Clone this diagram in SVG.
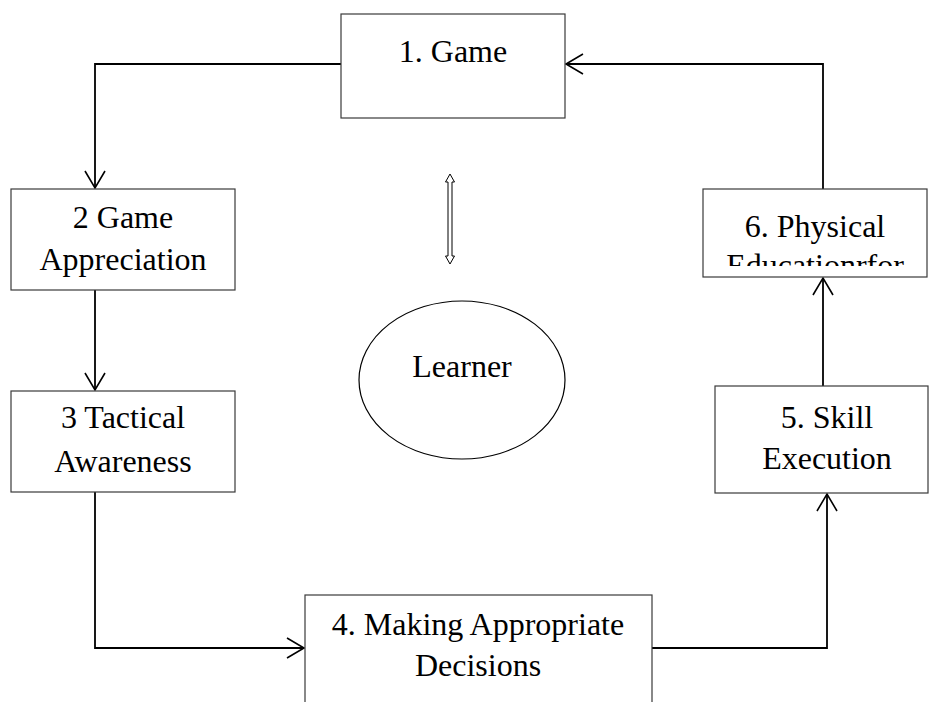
<svg xmlns="http://www.w3.org/2000/svg" width="930" height="702" viewBox="0 0 930 702">
<style>
.box{fill:#fff;stroke:#3a3a3a;stroke-width:1.2}
.t{font-family:"Liberation Serif","Times New Roman",serif;font-size:32px;fill:#000;text-anchor:middle}
.c{fill:none;stroke:#000;stroke-width:1.8}
</style>
<defs>
<marker id="ah" viewBox="-19 -12 21 24" markerWidth="21" markerHeight="24" refX="0" refY="0" orient="auto" markerUnits="userSpaceOnUse">
<path d="M-17,-10 L0,0 L-17,10" fill="none" stroke="#000" stroke-width="1.6"/>
</marker>
<clipPath id="clip6"><rect x="703" y="189" width="224" height="77"/></clipPath>
</defs>
<rect width="930" height="702" fill="#fff"/>
<g id="connectors">
<polyline class="c" points="341,64 95,64 95,188" marker-end="url(#ah)"/>
<polyline class="c" points="95,290 95,390" marker-end="url(#ah)"/>
<polyline class="c" points="95,492 95,648 304,648" marker-end="url(#ah)"/>
<polyline class="c" points="652,648 827,648 827,494" marker-end="url(#ah)"/>
<polyline class="c" points="823,386 823,278" marker-end="url(#ah)"/>
<polyline class="c" points="823,189 823,64 566,64" marker-end="url(#ah)"/>
</g>
<g id="node1">
<rect class="box" x="341" y="14" width="224" height="104"/>
<text class="t" x="453" y="62">1. Game</text>
</g>
<g id="node2">
<rect class="box" x="11" y="189" width="224" height="101"/>
<text class="t" x="123" y="228">2 Game</text>
<text class="t" x="123" y="270">Appreciation</text>
</g>
<g id="node3">
<rect class="box" x="11" y="391" width="224" height="101"/>
<text class="t" x="123" y="428">3 Tactical</text>
<text class="t" x="123" y="472">Awareness</text>
</g>
<g id="node4">
<rect class="box" x="305" y="595" width="347" height="120"/>
<text class="t" x="478" y="635">4. Making Appropriate</text>
<text class="t" x="478" y="676">Decisions</text>
</g>
<g id="node5">
<rect class="box" x="715" y="386" width="213" height="107"/>
<text class="t" x="827" y="428">5. Skill</text>
<text class="t" x="827" y="469">Execution</text>
</g>
<g id="node6">
<rect class="box" x="703" y="189" width="224" height="88"/>
<text class="t" x="815" y="237">6. Physical</text>
<text class="t" x="815" y="276" clip-path="url(#clip6)">Educationrfor</text>
</g>
<g id="doublearrow">
<polygon points="450,174 454.5,182 452,182 452,256 454.5,256 450,264 445.5,256 448,256 448,182 445.5,182" fill="#fff" stroke="#000" stroke-width="1"/>
</g>
<g id="learner">
<ellipse cx="462" cy="380" rx="103" ry="79" fill="#fff" stroke="#000" stroke-width="1.2"/>
<text class="t" x="462" y="377">Learner</text>
</g>
</svg>
